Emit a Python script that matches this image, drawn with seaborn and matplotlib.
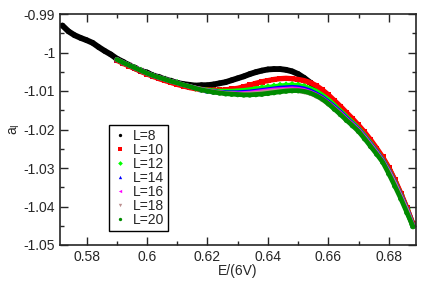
import numpy as np
import pandas as pd
import seaborn as sns
import matplotlib
matplotlib.use("Agg")
import matplotlib.pyplot as plt
from matplotlib.ticker import MultipleLocator

# x grids
e_L8 = np.round(np.arange(0.572, 0.6881, 0.002), 3)
e_rest = np.round(np.arange(0.590, 0.6881, 0.002), 3)

a_L8 = [-0.9930, -0.9945, -0.9955, -0.9962, -0.9968, -0.9975, -0.9986, -0.9996, -1.0005,
        -1.0016, -1.0024, -1.0033, -1.0040, -1.0048, -1.0052, -1.0060, -1.0064, -1.0070,
        -1.0074, -1.0079, -1.0082, -1.0084, -1.0086, -1.0085, -1.0085, -1.0083, -1.0080,
        -1.0077, -1.0072, -1.0067, -1.0062, -1.0056, -1.0051, -1.0047, -1.0044, -1.0043,
        -1.0043, -1.0045, -1.0049, -1.0056, -1.0066, -1.0078, -1.0091, -1.0105, -1.0119,
        -1.0134, -1.0148, -1.0163, -1.0178, -1.0194, -1.0212, -1.0232, -1.0254, -1.0277,
        -1.0302, -1.0335, -1.0370, -1.0408, -1.0448]
a_L10 = [-1.0020, -1.0028, -1.0035, -1.0042, -1.0049, -1.0056, -1.0062, -1.0068, -1.0073,
         -1.0078, -1.0083, -1.0087, -1.0091, -1.0094, -1.0096, -1.0097, -1.0098, -1.0098,
         -1.0097, -1.0095, -1.0093, -1.0089, -1.0085, -1.0080, -1.0076, -1.0073, -1.0070,
         -1.0068, -1.0067, -1.0068, -1.0070, -1.0073, -1.0078, -1.0086, -1.0097, -1.0110,
         -1.0125, -1.0140, -1.0156, -1.0172, -1.0189, -1.0207, -1.0227, -1.0249, -1.0272,
         -1.0299, -1.0331, -1.0366, -1.0404, -1.0446]
a_L12 = [-1.0018, -1.0026, -1.0033, -1.0040, -1.0047, -1.0054, -1.0060, -1.0065, -1.0070,
         -1.0075, -1.0079, -1.0084, -1.0088, -1.0092, -1.0095, -1.0097, -1.0099, -1.0100,
         -1.0100, -1.0100, -1.0099, -1.0098, -1.0096, -1.0094, -1.0092, -1.0090, -1.0088,
         -1.0086, -1.0085, -1.0084, -1.0085, -1.0088, -1.0093, -1.0100, -1.0110, -1.0122,
         -1.0136, -1.0151, -1.0166, -1.0181, -1.0197, -1.0215, -1.0235, -1.0256, -1.0278,
         -1.0305, -1.0336, -1.0370, -1.0406, -1.0448]
a_L14 = [-1.0018, -1.0026, -1.0033, -1.0040, -1.0047, -1.0054, -1.0060, -1.0065, -1.0070,
         -1.0075, -1.0079, -1.0084, -1.0088, -1.0092, -1.0096, -1.0099, -1.0101, -1.0103,
         -1.0104, -1.0104, -1.0104, -1.0103, -1.0102, -1.0100, -1.0098, -1.0096, -1.0094,
         -1.0092, -1.0091, -1.0090, -1.0091, -1.0094, -1.0099, -1.0107, -1.0116, -1.0128,
         -1.0141, -1.0155, -1.0170, -1.0185, -1.0200, -1.0218, -1.0238, -1.0258, -1.0280,
         -1.0307, -1.0338, -1.0372, -1.0407, -1.0449]
a_L16 = [-1.0018, -1.0026, -1.0033, -1.0040, -1.0047, -1.0054, -1.0060, -1.0065, -1.0070,
         -1.0075, -1.0079, -1.0084, -1.0088, -1.0092, -1.0096, -1.0099, -1.0102, -1.0104,
         -1.0106, -1.0106, -1.0107, -1.0106, -1.0105, -1.0103, -1.0101, -1.0099, -1.0097,
         -1.0096, -1.0095, -1.0094, -1.0095, -1.0098, -1.0103, -1.0110, -1.0119, -1.0131,
         -1.0144, -1.0158, -1.0173, -1.0187, -1.0202, -1.0220, -1.0240, -1.0260, -1.0282,
         -1.0309, -1.0340, -1.0374, -1.0409, -1.0450]
a_L18 = [-1.0018, -1.0026, -1.0033, -1.0040, -1.0047, -1.0054, -1.0060, -1.0065, -1.0070,
         -1.0075, -1.0079, -1.0084, -1.0088, -1.0092, -1.0096, -1.0099, -1.0102, -1.0104,
         -1.0106, -1.0107, -1.0108, -1.0108, -1.0107, -1.0106, -1.0104, -1.0102, -1.0100,
         -1.0099, -1.0098, -1.0097, -1.0099, -1.0102, -1.0106, -1.0113, -1.0122, -1.0134,
         -1.0146, -1.0160, -1.0175, -1.0189, -1.0204, -1.0222, -1.0242, -1.0262, -1.0284,
         -1.0311, -1.0342, -1.0376, -1.0410, -1.0451]
a_L20 = [-1.0018, -1.0026, -1.0033, -1.0040, -1.0047, -1.0054, -1.0060, -1.0065, -1.0070,
         -1.0075, -1.0079, -1.0084, -1.0088, -1.0093, -1.0097, -1.0100, -1.0103, -1.0105,
         -1.0107, -1.0108, -1.0109, -1.0110, -1.0110, -1.0109, -1.0108, -1.0106, -1.0104,
         -1.0102, -1.0100, -1.0099, -1.0099, -1.0101, -1.0105, -1.0112, -1.0121, -1.0133,
         -1.0147, -1.0161, -1.0176, -1.0190, -1.0205, -1.0224, -1.0244, -1.0264, -1.0285,
         -1.0315, -1.0347, -1.0380, -1.0416, -1.0452]

labels = ["L=8", "L=10", "L=12", "L=14", "L=16", "L=18", "L=20"]
colors = ["#000000", "#ff0000", "#00ff00", "#0000ff", "#ff00ff", "#bc8f8f", "#008b00"]
markers = ["o", "s", "D", "^", "<", "v", "o"]
widths = [4.2, 3.8, 3.2, 3.2, 3.2, 3.2, 3.4]

series = [a_L8, a_L10, a_L12, a_L14, a_L16, a_L18, a_L20]
frames = []
for lab, vals in zip(labels, series):
    xs = e_L8 if lab == "L=8" else e_rest
    frames.append(pd.DataFrame({"E": xs, "a": vals, "L": lab}))
df = pd.concat(frames, ignore_index=True)

sns.set_style("ticks")
plt.rcParams["font.family"] = ["Liberation Sans", "DejaVu Sans"]
plt.rcParams["mathtext.fontset"] = "custom"
plt.rcParams["mathtext.rm"] = "Liberation Sans"
plt.rcParams["mathtext.it"] = "Liberation Sans"

fig = plt.figure(figsize=(4.41, 2.85), dpi=100)
ax = fig.add_axes([60 / 441, 40 / 285, 356 / 441, 231 / 285])

pal = dict(zip(labels, colors))
mk = dict(zip(labels, markers))
# thick connecting band per series, then the markers on top
for lab, w in zip(labels, widths):
    sns.lineplot(data=df[df["L"] == lab], x="E", y="a", color=pal[lab],
                 lw=w, legend=False, ax=ax, sort=False)
sns.scatterplot(data=df, x="E", y="a", hue="L", style="L", palette=pal,
                markers=mk, hue_order=labels, style_order=labels,
                s=16, linewidth=0, ax=ax)

ax.set_xlim(0.5712, 0.689)
ax.set_ylim(-1.05, -0.99)
ax.xaxis.set_major_locator(MultipleLocator(0.02))
ax.xaxis.set_minor_locator(MultipleLocator(0.01))
ax.yaxis.set_major_locator(MultipleLocator(0.01))
ax.yaxis.set_minor_locator(MultipleLocator(0.005))
ax.xaxis.set_major_formatter(plt.FuncFormatter(lambda v, p: f"{v:g}"))
ax.yaxis.set_major_formatter(plt.FuncFormatter(lambda v, p: f"{v:g}"))
ax.tick_params(which="both", direction="in", top=True, right=True, labelsize=10, width=1)
ax.tick_params(which="major", length=6)
ax.tick_params(which="minor", length=3)
for s in ax.spines.values():
    s.set_linewidth(1.2)

ax.set_xlabel("E/(6V)", fontsize=10, labelpad=0)
ax.set_ylabel(r"$\mathregular{a_I}$", fontsize=10, labelpad=1)

leg = ax.legend(loc="lower left", bbox_to_anchor=(0.137, 0.06), fontsize=10,
                frameon=True, fancybox=False, edgecolor="black", framealpha=1,
                handletextpad=0.4, labelspacing=0.0, borderpad=0.3,
                handlelength=1.0, markerscale=0.6, borderaxespad=0)
leg.get_frame().set_linewidth(1.0)

fig.savefig("out.png", dpi=100)
